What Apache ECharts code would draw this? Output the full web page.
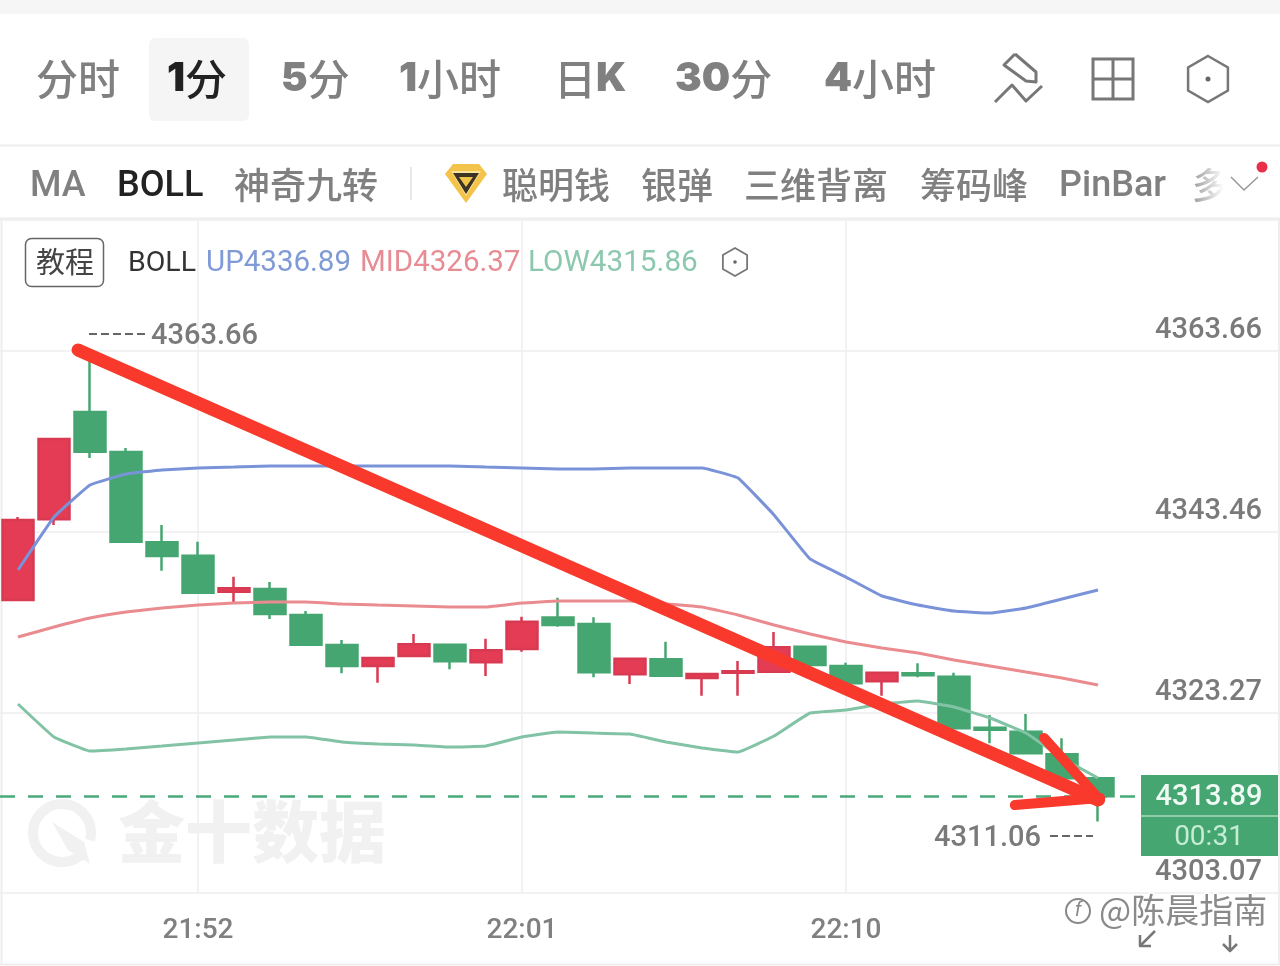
<!DOCTYPE html>
<html><head><meta charset="utf-8">
<style>html,body{margin:0;padding:0;background:#fff;overflow:hidden}#c{width:1280px;height:966px}</style>
<script src="https://cdn.jsdelivr.net/npm/echarts@6/dist/echarts.min.js"></script>
</head><body><div id="c"></div>
<script>
const times = ['21:47','21:48','21:49','21:50','21:51','21:52','21:53','21:54','21:55','21:56','21:57','21:58','21:59','22:00','22:01','22:02','22:03','22:04','22:05','22:06','22:07','22:08','22:09','22:10','22:11','22:12','22:13','22:14','22:15','22:16','22:17','22:18','22:19','22:20','22:21','22:22'];
const timeTicks = ['21:52','22:01','22:10'];
// [open, close, low, high]
const ohlc = [
[4335.82,4344.77,4335.82,4345.10],[4344.84,4353.82,4344.21,4353.90],[4356.84,4352.40,4351.70,4363.66],[4352.37,4342.34,4342.34,4352.82],
[4342.27,4340.74,4339.10,4344.21],[4340.78,4336.64,4336.55,4342.34],[4336.75,4337.13,4335.49,4338.43],[4337.05,4334.26,4333.70,4337.84],
[4334.15,4330.83,4330.68,4334.59],[4330.79,4328.44,4327.63,4331.35],[4328.44,4329.34,4326.58,4329.34],[4329.56,4330.87,4329.56,4332.02],
[4330.83,4328.97,4328.08,4330.90],[4328.86,4330.20,4327.33,4331.50],[4330.35,4333.40,4330.04,4333.96],[4333.87,4333.03,4332.84,4336.08],
[4333.14,4327.74,4327.18,4333.89],[4327.52,4329.26,4326.43,4329.26],[4329.19,4327.36,4327.36,4331.16],[4327.10,4327.55,4325.12,4327.63],
[4327.70,4327.85,4325.12,4329.00],[4327.81,4330.54,4327.70,4332.25],[4330.60,4328.56,4328.11,4330.60],[4328.44,4326.51,4326.43,4328.81],
[4326.73,4327.70,4325.12,4327.70],[4327.63,4327.41,4327.18,4328.75],[4327.25,4321.48,4321.48,4327.70],[4321.55,4321.32,4319.80,4322.97],
[4321.10,4318.69,4318.61,4323.08],[4318.57,4315.89,4315.89,4320.36],[4315.89,4313.89,4311.06,4315.89]];
const bollUp = [4339.18,4345.10,4348.68,4349.91,4350.36,4350.58,4350.69,4350.80,4350.80,4350.80,4350.80,4350.80,4350.80,4350.69,4350.58,4350.47,4350.47,4350.58,4350.58,4350.58,4349.46,4345.33,4340.41,4338.39,4336.27,4335.26,4334.59,4334.37,4334.93,4335.93,4336.94];
const bollMid = [4331.69,4332.81,4333.81,4334.48,4334.93,4335.26,4335.49,4335.60,4335.60,4335.38,4335.26,4335.15,4335.04,4335.04,4335.49,4335.71,4335.71,4335.71,4335.38,4335.04,4334.15,4333.03,4332.02,4331.13,4330.46,4329.90,4329.12,4328.44,4327.77,4327.10,4326.32];
const bollLow = [4324.20,4320.51,4318.94,4319.17,4319.50,4319.84,4320.17,4320.51,4320.51,4319.95,4319.72,4319.61,4319.39,4319.50,4320.51,4321.07,4320.95,4320.84,4319.95,4319.28,4318.83,4320.62,4323.19,4323.53,4324.20,4324.53,4323.86,4322.63,4320.95,4318.16,4315.92];
const axisMin = 4303.07, axisMax = 4378.305, axisStep = 20.19667;
const lastPrice = 4313.89;
// hand-drawn annotation strokes: [candle position, price]
const strokeMain = [[1.667,4363.77],[30,4313.46]];
const strokeHeadA = [[28.5,4320.4],[30.06,4313.46]];
const strokeHeadB = [[27.69,4312.9],[30.06,4313.69]];

const cjk = '"Noto Sans CJK SC"', num = 'Roboto', GR = '#808080', DK = '#222222';
const gEls = [];
const rect = (x,y,w,h,fill,r) => gEls.push({type:'rect',shape:{x,y,width:w,height:h,r:r||0},style:{fill},silent:true});
const line = (x1,y1,x2,y2,stroke,w,dash) => gEls.push({type:'line',shape:{x1,y1,x2,y2},style:{stroke,lineWidth:w||2,lineDash:dash||null},silent:true});
const poly = (points,stroke,w) => gEls.push({type:'polyline',shape:{points},style:{stroke,lineWidth:w||3,fill:null,lineJoin:'round'},silent:true});
const gon = (points,fill,stroke,w) => gEls.push({type:'polygon',shape:{points},style:{fill,stroke:stroke||null,lineWidth:w||0},silent:true});
const txt = (text,x,y,size,fill,family,weight,align) => gEls.push({type:'text',z:5,silent:true,style:{text,x,y,fill,align:align||'left',verticalAlign:'middle',font:(weight||400)+' '+size+'px '+(family||cjk)}});
const richStyle = color => ({a:{fontFamily:'Inter',fontWeight:900,fontSize:40,fill:color,color},b:{fontFamily:cjk,fontWeight:500,fontSize:42,fill:color,color}});
const mix = (lead,tail,x,y,color) => gEls.push({type:'text',z:5,silent:true,style:{x,y,verticalAlign:'middle',text:(lead?'{a|'+lead+'}':'')+(tail?'{b|'+tail+'}':''),rich:richStyle(color)}});
const hex = (cx,cy,r,w) => {
  const s=r*0.866;
  gon([[cx,cy-r],[cx+s,cy-r/2],[cx+s,cy+r/2],[cx,cy+r],[cx-s,cy+r/2],[cx-s,cy-r/2]],'#fff','#777',w);
  gEls.push({type:'circle',z:3,shape:{cx,cy,r:w},style:{fill:'#666'},silent:true});
};
// page chrome
rect(0,0,1280,14,'#f6f6f6');
line(0,145.5,1280,145.5,'#eeeeee',2);
line(0,218.5,1280,218.5,'#eeeeee',2);
line(0,964.5,1280,964.5,'#eeeeee',2);
line(1.5,219,1.5,964,'#eeeeee',2);
line(1279,219,1279,964,'#eeeeee',2);
// period row
rect(149,38,100,83,'#f5f5f5',6);
mix('','分时',36,79,GR);
mix('1','分',167,79,DK);
mix('5','分',281,79,GR);
mix('1','小时',399,79,GR);
gEls.push({type:'text',z:5,silent:true,style:{x:554,y:79,verticalAlign:'middle',text:'{b|日}{a|K}',rich:richStyle(GR)}});
mix('30','分',675,79,GR);
mix('4','小时',824,79,GR);
// tool icons
poly([[1015,54],[1004,65],[1026,81],[1036,82],[1036,72],[1015,54]],'#777',3);
poly([[995,102],[1012,85],[1026,101],[1042,86]],'#777',3);
gEls.push({type:'rect',shape:{x:1093,y:59,width:40,height:40},style:{fill:null,stroke:'#777',lineWidth:3},silent:true});
line(1113,59,1113,99,'#777',3);
line(1093,79,1133,79,'#777',3);
hex(1208,79,23,2.5);
// indicator row
txt('MA',30,187,36,GR,num,500);
txt('BOLL',117,187,36,DK,num,500);
txt('神奇九转',234,185,36,GR,cjk,500);
line(411,167,411,200,'#e8e8e8',2);
gon([[453,164],[479,164],[487,174],[466,203],[445,174]],'#f3c34a');
gon([[451,171],[481,171],[466,196]],'#fbe39a');
gon([[453,173],[479,173],[466,194]],'#3b3424');
gon([[459,177],[473,177],[466,187]],'#f3c34a');
txt('聪明钱',502,185,36,GR,cjk,500);
txt('银弹',641,185,36,GR,cjk,500);
txt('三维背离',744,185,36,GR,cjk,500);
txt('筹码峰',920,185,36,GR,cjk,500);
txt('PinBar',1059,187,36,GR,num,500);
txt('多',1192,185,36,GR,cjk,500);
gEls.push({type:'rect',z:6,silent:true,shape:{x:1192,y:160,width:88,height:50},style:{fill:{type:'linear',x:0,y:0,x2:1,y2:0,colorStops:[{offset:0,color:'rgba(255,255,255,0.2)'},{offset:0.36,color:'rgba(255,255,255,1)'},{offset:1,color:'#fff'}]}}});
gEls.push({type:'polyline',z:7,silent:true,shape:{points:[[1231,177],[1244,190],[1258,177]]},style:{stroke:'#999',lineWidth:1.5,fill:null}});
gEls.push({type:'circle',z:7,silent:true,shape:{cx:1262,cy:167,r:5.5},style:{fill:'#e8304a'}});
// legend row
gEls.push({type:'rect',silent:true,shape:{x:25.5,y:238.5,width:78,height:48,r:6},style:{fill:'#fff',stroke:'#666',lineWidth:1.5}});
txt('教程',36,262,29,'#444',cjk,400);
txt('BOLL',128,264,28.5,'#333',num,400);
txt('UP4336.89',206,264,29.5,'#7f9ad6',num,400);
txt('MID4326.37',360,264,29.5,'#e88c94',num,400);
txt('LOW4315.86',528,264,29.7,'#8cc8ae',num,400);
hex(735,262,14,1.8);
// watermark
gEls.push({type:'arc',silent:true,shape:{cx:62,cy:833,r:29,startAngle:0.75,endAngle:0.25+Math.PI*2},style:{stroke:'#f1f1f1',lineWidth:10,fill:null}});
gon([[52,822],[84,842],[90,864],[68,850]],'#f1f1f1');
txt('金十数据',118,832,67,'#f1f1f1',cjk,900);
// high / low tags and last price box
line(89,334,145,334,'#666',2,[8,4]);
txt('4363.66',151,337,29,'#7a7a7a',num,500);
txt('4311.06',934,839,29,'#7a7a7a',num,500);
line(1050,836,1093,836,'#666',2,[8,4]);
gEls.push({type:'rect',z:8,silent:true,shape:{x:1141,y:775,width:137,height:81},style:{fill:'#45a672'}});
gEls.push({type:'line',z:9,silent:true,shape:{x1:1141,y1:816,x2:1278,y2:816},style:{stroke:'#a5d8bd',lineWidth:1.5}});
gEls.push({type:'text',z:9,silent:true,style:{text:'4313.89',x:1209,y:798,align:'center',verticalAlign:'middle',fill:'#f0faf4',font:'500 29px Roboto'}});
gEls.push({type:'text',z:9,silent:true,style:{text:'00:31',x:1209,y:838,align:'center',verticalAlign:'middle',fill:'#c6ecd4',font:'400 28px Roboto'}});
// credit watermark
gEls.push({type:'text',z:10,silent:true,style:{text:'@陈晨指南',x:1099,y:910,verticalAlign:'middle',fill:'#8a8a8a',stroke:'#fff',lineWidth:3,font:'400 34px '+cjk}});
gEls.push({type:'circle',z:10,silent:true,shape:{cx:1078,cy:911,r:12},style:{fill:'#fff',stroke:'#888',lineWidth:2}});
gEls.push({type:'text',z:10,silent:true,style:{text:'f',x:1078,y:911,align:'center',verticalAlign:'middle',fill:'#888',font:'italic 20px Roboto'}});
poly([[1155,931],[1140,946]],'#777',2.5); poly([[1140,935],[1140,946],[1151,946]],'#777',2.5);
poly([[1230,935],[1230,951]],'#777',2.5); poly([[1223,944],[1230,951],[1237,944]],'#777',2.5);

const lineSeries = (name,data,color,w) => ({type:'line',name,data,symbol:'none',smooth:0.08,silent:true,animation:false,z:3,lineStyle:{color,width:w}});
const stroke = (name,data) => ({type:'line',name,data,xAxisIndex:1,yAxisIndex:0,symbol:'none',silent:true,animation:false,z:6,lineStyle:{color:'#f9392c',width:name==='main'?13:10,cap:'round'}});

const chart = echarts.init(document.getElementById('c'),null,{renderer:'canvas'});
chart.setOption({
  animation:false,
  backgroundColor:'#fff',
  graphic:{elements:gEls},
  grid:{left:0,top:220,width:1296,height:673,containLabel:false,outerBoundsMode:'none'},
  xAxis:[{type:'category',data:times,boundaryGap:true,
    axisLine:{show:false},axisTick:{show:false,alignWithLabel:true},
    axisLabel:{interval:(i,v)=>timeTicks.includes(v),color:GR,fontFamily:num,fontSize:28,fontWeight:500,margin:24,align:'center'},
    splitLine:{show:true,alignWithLabel:true,interval:(i,v)=>timeTicks.includes(v),lineStyle:{color:'#eeeeee',width:1.5}}},
    {type:'value',min:-0.5,max:35.5,show:false,splitLine:{show:false}}],
  yAxis:{type:'value',min:axisMin,max:axisMax,interval:axisStep,position:'right',
    axisLine:{show:false},axisTick:{show:false},
    splitLine:{show:true,lineStyle:{color:'#eeeeee',width:1.5}},
    axisLabel:{inside:true,margin:34,showMaxLabel:false,showMinLabel:true,hideOverlap:false,color:'#7a7a7a',fontFamily:num,fontSize:29,fontWeight:500,verticalAlign:'bottom',lineHeight:30,padding:[0,0,5,0],formatter:v=>v.toFixed(2)}},
  series:[
    {type:'candlestick',name:'K',data:ohlc,barWidth:31,silent:true,z:2,
     itemStyle:{color:'#e33c54',color0:'#45a672',borderColor:'#d83a52',borderColor0:'#45a672',borderWidth:2.5},
     markLine:{silent:true,symbol:'none',animation:false,label:{show:false},data:[{yAxis:lastPrice}],lineStyle:{color:'#49a97a',width:2.5,type:[15,13]}}},
    lineSeries('UP',bollUp,'#7a93d8',3),
    lineSeries('MID',bollMid,'#ea8b8f',3),
    lineSeries('LOW',bollLow,'#82c3a6',3),
    stroke('main',strokeMain),stroke('headA',strokeHeadA),stroke('headB',strokeHeadB)
  ]
});
</script></body></html>
